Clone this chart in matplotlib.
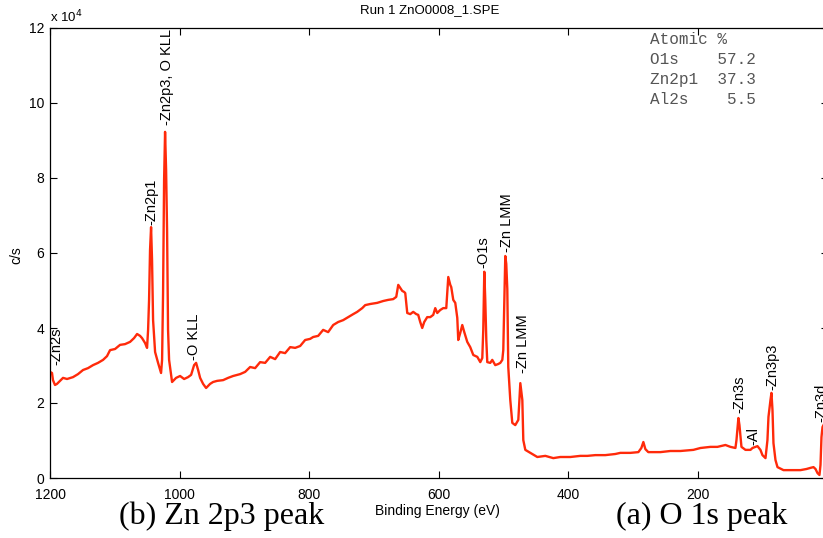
import matplotlib
matplotlib.use("Agg")
import matplotlib.pyplot as plt

# Survey spectrum (binding energy in eV, counts in c/s)
energy = [1200.0, 1196.9, 1195.4, 1192.3, 1189.2, 1184.6, 1179.9, 1173.7, 1164.5, 1156.8,
          1149.0, 1141.3, 1133.6, 1125.9, 1118.1, 1112.0, 1107.3, 1099.6, 1091.9, 1084.2,
          1076.4, 1070.3, 1065.6, 1061.0, 1057.9, 1053.3, 1050.2, 1048.6, 1047.1, 1045.6,
          1044.0, 1042.5, 1040.9, 1037.8, 1033.2, 1028.6, 1027.0, 1025.5, 1023.9, 1022.4,
          1020.8, 1019.3, 1017.8, 1016.2, 1011.6, 1005.4, 999.2, 993.0, 986.9, 982.2,
          977.6, 974.5, 971.4, 968.3, 963.7, 959.1, 952.9, 948.3, 942.1, 932.8,
          925.1, 917.4, 906.6, 898.8, 891.1, 883.4, 875.7, 867.9, 860.2, 852.5,
          844.8, 837.1, 829.3, 821.6, 813.9, 806.2, 798.5, 793.8, 786.1, 778.4,
          770.7, 762.9, 755.2, 747.5, 739.8, 732.0, 725.9, 718.1, 713.5, 705.8,
          695.0, 685.7, 678.0, 670.3, 665.6, 662.5, 659.5, 656.4, 653.3, 651.7,
          648.6, 644.0, 639.4, 634.7, 631.7, 628.6, 625.5, 622.4, 617.8, 613.1,
          608.5, 605.4, 602.3, 597.7, 593.1, 588.4, 585.3, 582.2, 580.7, 577.6,
          574.5, 571.4, 569.9, 566.8, 563.7, 560.6, 556.0, 551.4, 546.7, 540.5,
          535.9, 532.8, 531.3, 529.7, 528.2, 526.6, 525.1, 520.5, 517.4, 512.8,
          508.1, 505.0, 501.9, 500.4, 498.8, 497.3, 495.8, 494.2, 492.7, 489.6,
          486.5, 481.9, 477.2, 474.1, 471.0, 469.5, 466.4, 458.7, 447.9, 435.5,
          423.2, 412.4, 396.9, 381.5, 370.7, 358.3, 342.9, 327.5, 319.7, 304.3,
          291.9, 287.3, 284.2, 281.1, 276.6, 258.0, 242.5, 227.0, 207.0, 196.1,
          180.7, 169.9, 157.5, 149.8, 142.1, 140.5, 137.5, 135.9, 132.8, 126.6,
          118.9, 115.8, 108.1, 103.5, 100.4, 95.7, 92.7, 91.1, 88.0, 86.5,
          84.9, 83.4, 80.3, 77.2, 67.9, 57.1, 41.7, 32.4, 26.3, 21.6,
          18.5, 15.4, 12.4, 10.8, 9.3, 7.7, 6.2]
counts = [28300, 28000, 26100, 24800, 25100, 25900, 26700, 26400, 26900, 27700,
          28800, 29300, 30100, 30700, 31500, 32500, 34100, 34400, 35500, 35700,
          36300, 37300, 38400, 37900, 37300, 36000, 34700, 39500, 47500, 60800,
          66900, 58100, 42100, 33600, 30700, 28000, 31500, 49300, 79500, 92300,
          82100, 66100, 39500, 31500, 25600, 26700, 27200, 26400, 26900, 27500,
          30100, 30700, 28800, 26700, 25100, 24000, 25100, 25600, 25900, 26100,
          26700, 27200, 27700, 28300, 29600, 29300, 30900, 30700, 32300, 31700,
          33600, 33300, 34900, 34700, 35200, 36800, 37100, 37600, 37900, 39500,
          38900, 40800, 41600, 42100, 42900, 43700, 44300, 45300, 46100, 46400,
          46700, 47200, 47500, 47700, 48300, 51500, 50700, 49900, 49600, 49300,
          44000, 43700, 44300, 43700, 43500, 41600, 40000, 41600, 42900, 42900,
          43500, 45300, 44000, 44800, 45300, 45300, 53600, 51500, 50900, 47500,
          46700, 42700, 36800, 38700, 40800, 38900, 36300, 34900, 32800, 32300,
          30900, 32000, 39500, 55000, 47500, 36800, 30900, 30700, 31500, 30100,
          30400, 30700, 31500, 34100, 47500, 59200, 57100, 50400, 29600, 20800,
          14700, 14100, 15500, 25300, 20800, 10100, 7500, 6700, 5600, 5900,
          5300, 5600, 5600, 5900, 5900, 6100, 6100, 6400, 6700, 6700,
          6900, 8000, 9600, 7700, 6900, 6900, 7200, 7200, 7500, 8000,
          8300, 8300, 8800, 8300, 8000, 10100, 16000, 14100, 8300, 7500,
          7500, 8000, 8500, 7500, 6100, 5300, 10100, 16300, 20800, 22700,
          18100, 9300, 4800, 2900, 2100, 2100, 2100, 2400, 2700, 2900,
          2400, 1300, 800, 3500, 10900, 13600, 14100]

# Peak labels: text, energy (eV), counts where the label starts
peak_names = ["-Zn2s", "-Zn2p1", "-Zn2p3, O KLL", "-O KLL", "-O1s", "-Zn LMM",
              "-Zn LMM", "-Zn3s", "-Al", "-Zn3p3", "-Zn3d"]
peak_energy = [1190.7, 1044.0, 1019.3, 977.6, 531.3, 494.2, 469.5, 135.9, 114.3, 84.9, 9.3]
peak_counts = [30100, 67500, 94100, 31500, 56000, 60300, 28000, 17300, 8800, 23500, 14900]

# Atomic concentration table
quant_elements = ["O1s", "Zn2p1", "Al2s"]
quant_percent = [57.2, 37.3, 5.5]

x_ticks = [1200, 1000, 800, 600, 400, 200]
y_ticks = [0, 2, 4, 6, 8, 10, 12]

W, H = 823, 538
fig = plt.figure(figsize=(W / 100, H / 100), dpi=100)
sans = "Liberation Sans"

left, right, top, bottom = 50, 827.5, 28, 478
ax = fig.add_axes([left / W, (H - bottom) / H, (right - left) / W, (bottom - top) / H])
ax.plot(energy, counts, color="#ff2a0a", lw=1.7, solid_joinstyle="round")
ax.set_xlim(1200, 0)
ax.set_ylim(0, 120000)
ax.set_xticks(x_ticks)
ax.set_xticklabels([str(t) for t in x_ticks], fontfamily=sans, fontsize=10)
ax.set_yticks([t * 1e4 for t in y_ticks])
ax.set_yticklabels([str(t) for t in y_ticks], fontfamily=sans, fontsize=10)
ax.tick_params(direction="in", length=5, width=0.8, top=True, right=True)
ax.tick_params(axis="x", pad=7)
ax.tick_params(axis="y", pad=4)
for s in ax.spines.values():
    s.set_linewidth(0.9)

for name, e, c in zip(peak_names, peak_energy, peak_counts):
    ax.text(e, c, name, rotation=90, ha="center", va="bottom", fontsize=10.5,
            fontfamily=sans, clip_on=True)

# Atomic % box
lines = ["Atomic %"] + [f"{el:<6}{p:5.1f}" for el, p in zip(quant_elements, quant_percent)]
for i, ln in enumerate(lines):
    fig.text(650 / W, 1 - (40 + i * 19.7) / H, ln, fontfamily="Liberation Mono",
             fontsize=11.5, color="#555555", ha="left", va="center")

fig.text(430 / W, 1 - 10 / H, "Run 1 ZnO0008_1.SPE", fontfamily=sans, fontsize=9.5,
         ha="center", va="center")
fig.text(50 / W, 1 - 17 / H, r"x 10$^4$", fontfamily=sans, fontsize=9.5,
         ha="left", va="center")
fig.text(437 / W, 1 - 511 / H, "Binding Energy (eV)", fontfamily=sans, fontsize=10,
         ha="center", va="center")
fig.text(16 / W, 1 - 255 / H, "c/s", fontfamily=sans, fontsize=10, rotation=90,
         ha="center", va="center")

fig.text(222 / W, 1 - 516 / H, "(b) Zn 2p3 peak", fontfamily="Liberation Serif",
         fontsize=23, ha="center", va="center")
fig.text(702 / W, 1 - 516 / H, "(a) O 1s peak", fontfamily="Liberation Serif",
         fontsize=23, ha="center", va="center")

fig.savefig("out.png", dpi=100)
